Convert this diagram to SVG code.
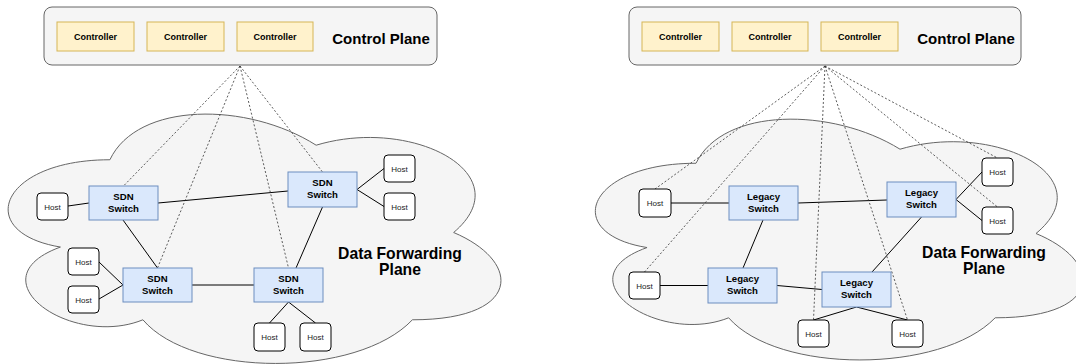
<svg xmlns="http://www.w3.org/2000/svg" width="1076" height="364" viewBox="0 0 1076 364">
<defs>
<style>
.plane{fill:#f5f5f5;stroke:#666666;stroke-width:1}
.ctl{fill:#fff2cc;stroke:#d6b656;stroke-width:1}
.sw{fill:#dae8fc;stroke:#6c8ebf;stroke-width:1}
.host{fill:#ffffff;stroke:#000000;stroke-width:1}
.t{font-family:"Liberation Sans",Arial,sans-serif;text-anchor:middle;fill:#000}
.ct{font-size:9px;font-weight:bold}
.st{font-size:9.6px;font-weight:bold}
.ht{font-size:8px;fill:#222}
.big{font-size:15px;font-weight:bold}
.big2{font-size:15.7px;font-weight:bold}
.e{stroke:#000;stroke-width:1;fill:none}
.d{stroke:#333;stroke-width:0.8;stroke-dasharray:2 2;fill:none}
</style>
</defs>

<!-- Left panel -->
<g id="left-control-plane">
<rect class="plane" x="44" y="7" width="393" height="58" rx="8"/>
<text class="t big" x="381" y="44" text-anchor="middle">Control Plane</text>
</g>
<g id="left-controller-1"><rect class="ctl" x="57" y="22" width="77" height="29"/><text class="t ct" x="95.5" y="39.5">Controller</text></g>
<g id="left-controller-2"><rect class="ctl" x="147" y="22" width="77" height="29"/><text class="t ct" x="185.5" y="39.5">Controller</text></g>
<g id="left-controller-3"><rect class="ctl" x="237" y="22" width="76" height="29"/><text class="t ct" x="275" y="39.5">Controller</text></g>

<g id="left-cloud">
<path class="plane" d="M109.9,159.75 C-0.1,159.75 -27.6,232.5 60.4,247.05 C-27.6,279.06 71.4,348.9 142.9,319.8 C192.4,378 357.4,378 412.4,319.8 C522.4,319.8 522.4,261.6 453.65,232.5 C522.4,174.3 412.4,116.1 316.15,145.2 C247.4,101.55 137.4,101.55 109.9,159.75 Z"/>
<text class="t big2" x="400" y="259">Data Forwarding</text>
<text class="t big2" x="400" y="275">Plane</text>
</g>

<!-- Right panel -->
<g id="right-control-plane">
<rect class="plane" x="629" y="7" width="392" height="58" rx="8"/>
<text class="t big" x="966" y="44">Control Plane</text>
</g>
<g id="right-controller-1"><rect class="ctl" x="642" y="22" width="77" height="29"/><text class="t ct" x="680.5" y="39.5">Controller</text></g>
<g id="right-controller-2"><rect class="ctl" x="732" y="22" width="76" height="29"/><text class="t ct" x="770" y="39.5">Controller</text></g>
<g id="right-controller-3"><rect class="ctl" x="821" y="22" width="77" height="29"/><text class="t ct" x="859.5" y="39.5">Controller</text></g>

<g id="right-cloud">
<path class="plane" d="M696,163.25 C587.2,163.25 560,233.5 647.04,247.55 C560,278.46 657.92,345.9 728.64,317.8 C777.6,374 940.8,374 995.2,317.8 C1104,317.8 1104,261.6 1036,233.5 C1104,177.3 995.2,121.1 900,149.2 C832,107.05 723.2,107.05 696,163.25 Z"/>
<text class="t big2" x="984" y="258">Data Forwarding</text>
<text class="t big2" x="984" y="274">Plane</text>
</g>

<g id="connectors">
<!-- left solid -->
<line class="e" x1="68" y1="206" x2="89" y2="203"/>
<line class="e" x1="158" y1="203" x2="288" y2="191"/>
<line class="e" x1="123" y1="220" x2="157.5" y2="268"/>
<line class="e" x1="99" y1="262" x2="123" y2="285"/>
<line class="e" x1="99" y1="299" x2="123" y2="285"/>
<line class="e" x1="192" y1="285" x2="254" y2="285"/>
<line class="e" x1="322.5" y1="207" x2="296" y2="268"/>
<line class="e" x1="357" y1="189.5" x2="384" y2="168.5"/>
<line class="e" x1="357" y1="189.5" x2="384" y2="206.5"/>
<line class="e" x1="288.5" y1="302" x2="269.5" y2="323"/>
<line class="e" x1="288.5" y1="302" x2="315.5" y2="323"/>
<!-- left dashed -->
<line class="d" x1="240" y1="66" x2="123.5" y2="186"/>
<line class="d" x1="240" y1="66" x2="157.5" y2="268"/>
<line class="d" x1="240" y1="66" x2="322.5" y2="172"/>
<line class="d" x1="240" y1="66" x2="288.5" y2="268"/>
<!-- right solid -->
<line class="e" x1="671" y1="203" x2="729" y2="203"/>
<line class="e" x1="798" y1="203" x2="887" y2="200"/>
<line class="e" x1="763" y1="220" x2="743" y2="268"/>
<line class="e" x1="660" y1="285.5" x2="708" y2="285.5"/>
<line class="e" x1="777" y1="285.5" x2="822" y2="289.5"/>
<line class="e" x1="921.5" y1="217" x2="872" y2="272"/>
<line class="e" x1="956" y1="199.5" x2="982" y2="172"/>
<line class="e" x1="956" y1="199.5" x2="982" y2="220.5"/>
<line class="e" x1="856.5" y1="307" x2="813.5" y2="320"/>
<line class="e" x1="856.5" y1="307" x2="907.5" y2="320"/>
<!-- right dashed -->
<line class="d" x1="825" y1="66" x2="655" y2="189"/>
<line class="d" x1="825" y1="66" x2="644.5" y2="272"/>
<line class="d" x1="825" y1="66" x2="813.5" y2="320"/>
<line class="d" x1="825" y1="66" x2="907.5" y2="320"/>
<line class="d" x1="825" y1="66" x2="997.5" y2="158"/>
<line class="d" x1="825" y1="66" x2="997.5" y2="207"/>
</g>

<!-- Left nodes -->
<g id="sdn-switch-1"><rect class="sw" x="89" y="186" width="69" height="34"/><text class="t st" x="123.5" y="199.5">SDN</text><text class="t st" x="123.5" y="211.5">Switch</text></g>
<g id="sdn-switch-2"><rect class="sw" x="123" y="268" width="69" height="34"/><text class="t st" x="157.5" y="281.5">SDN</text><text class="t st" x="157.5" y="293.5">Switch</text></g>
<g id="sdn-switch-3"><rect class="sw" x="288" y="172" width="69" height="35"/><text class="t st" x="322.5" y="186">SDN</text><text class="t st" x="322.5" y="198">Switch</text></g>
<g id="sdn-switch-4"><rect class="sw" x="254" y="268" width="69" height="34"/><text class="t st" x="288.5" y="281.5">SDN</text><text class="t st" x="288.5" y="293.5">Switch</text></g>
<g id="left-host-1"><rect class="host" x="37" y="193" width="31" height="27" rx="4"/><text class="t ht" x="52.5" y="209.5">Host</text></g>
<g id="left-host-2"><rect class="host" x="68" y="248" width="31" height="27" rx="4"/><text class="t ht" x="83.5" y="264.5">Host</text></g>
<g id="left-host-3"><rect class="host" x="68" y="286" width="31" height="27" rx="4"/><text class="t ht" x="83.5" y="302.5">Host</text></g>
<g id="left-host-4"><rect class="host" x="384" y="155" width="31" height="27" rx="4"/><text class="t ht" x="399.5" y="171.5">Host</text></g>
<g id="left-host-5"><rect class="host" x="384" y="193" width="31" height="27" rx="4"/><text class="t ht" x="399.5" y="209.5">Host</text></g>
<g id="left-host-6"><rect class="host" x="254" y="323" width="31" height="28" rx="4"/><text class="t ht" x="269.5" y="340">Host</text></g>
<g id="left-host-7"><rect class="host" x="300" y="323" width="31" height="28" rx="4"/><text class="t ht" x="315.5" y="340">Host</text></g>

<!-- Right nodes -->
<g id="legacy-switch-1"><rect class="sw" x="729" y="186" width="69" height="34"/><text class="t st" x="763.5" y="199.5">Legacy</text><text class="t st" x="763.5" y="211.5">Switch</text></g>
<g id="legacy-switch-2"><rect class="sw" x="708" y="268" width="69" height="35"/><text class="t st" x="742.5" y="282">Legacy</text><text class="t st" x="742.5" y="294">Switch</text></g>
<g id="legacy-switch-3"><rect class="sw" x="887" y="182" width="69" height="35"/><text class="t st" x="921.5" y="196">Legacy</text><text class="t st" x="921.5" y="208">Switch</text></g>
<g id="legacy-switch-4"><rect class="sw" x="822" y="272" width="69" height="35"/><text class="t st" x="856.5" y="286">Legacy</text><text class="t st" x="856.5" y="298">Switch</text></g>
<g id="right-host-1"><rect class="host" x="639" y="189" width="32" height="28" rx="4"/><text class="t ht" x="655" y="206">Host</text></g>
<g id="right-host-2"><rect class="host" x="629" y="272" width="31" height="27" rx="4"/><text class="t ht" x="644.5" y="288.5">Host</text></g>
<g id="right-host-3"><rect class="host" x="798" y="320" width="31" height="27" rx="4"/><text class="t ht" x="813.5" y="336.5">Host</text></g>
<g id="right-host-4"><rect class="host" x="892" y="320" width="31" height="27" rx="4"/><text class="t ht" x="907.5" y="336.5">Host</text></g>
<g id="right-host-5"><rect class="host" x="982" y="158" width="31" height="28" rx="4"/><text class="t ht" x="997.5" y="175">Host</text></g>
<g id="right-host-6"><rect class="host" x="982" y="207" width="31" height="27" rx="4"/><text class="t ht" x="997.5" y="223.5">Host</text></g>
</svg>
